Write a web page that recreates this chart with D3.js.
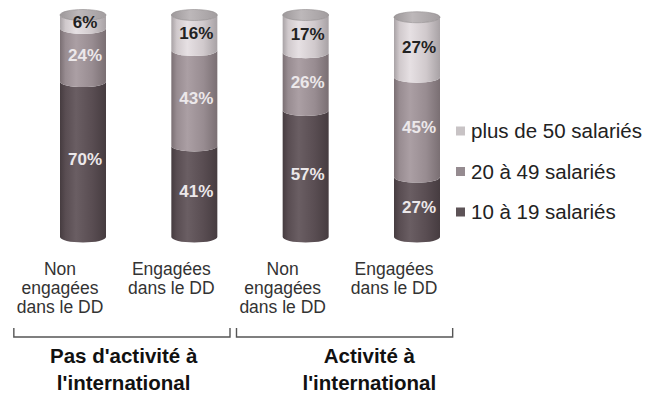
<!DOCTYPE html>
<html>
<head>
<meta charset="utf-8">
<script src="https://cdn.jsdelivr.net/npm/d3@7/dist/d3.min.js"></script>
<style>
  html, body { margin: 0; padding: 0; background: #fff; }
  svg { display: block; }
  text { font-family: "Liberation Sans", Arial, sans-serif; }
</style>
</head>
<body>
<svg id="chart" width="658" height="394"></svg>
<script>
// Share of firms by size, per group (percent)
const categories = ["nonPas", "engPas", "nonAct", "engAct"];
const categoryLabels = [
  ["Non", "engagées", "dans le DD"],
  ["Engagées", "dans le DD"],
  ["Non", "engagées", "dans le DD"],
  ["Engagées", "dans le DD"]
];
const groupLabels = [
  ["Pas d'activité à", "l'international"],
  ["Activité à", "l'international"]
];
const groupMembers = [["nonPas", "engPas"], ["nonAct", "engAct"]];
const seriesNames = ["10 à 19 salariés", "20 à 49 salariés", "plus de 50 salariés"];
const small  = [70, 41, 57, 27];   // 10 à 19 salariés
const medium = [24, 43, 26, 45];   // 20 à 49 salariés
const large  = [6, 16, 17, 27];    // plus de 50 salariés

const svg = d3.select("#chart");
const defs = svg.append("defs");

const rows = categories.map((c, i) => ({
  cat: c, s0: small[i], s1: medium[i], s2: large[i]
}));
const keys = ["s0", "s1", "s2"];
const stacked = d3.stack().keys(keys)(rows);

const x = d3.scalePoint().domain(categories).range([83, 417]);
const y = d3.scaleLinear().domain([0, 100]).range([237, 15]);
const barW = 46, rx = barW / 2, ry = 5.5;

// cylinder shading per series: [edge, highlight, body]
const shades = [
  ["#463c40", "#6a5e63", "#594d52"],
  ["#7a6f73", "#ab9fa4", "#988c91"],
  ["#a8a2a5", "#e6e0e3", "#d0c9cc"]
];
const legendFill = ["#5d5357", "#958b90", "#c8c3c5"];
const labelFill = ["#ece8ea", "#ece8ea", "#222"];

shades.forEach((s, i) => {
  const g = defs.append("linearGradient").attr("id", "cyl" + i)
    .attr("x1", "0").attr("x2", "1").attr("y1", "0").attr("y2", "0");
  g.append("stop").attr("offset", "0").attr("stop-color", s[0]);
  g.append("stop").attr("offset", "0.12").attr("stop-color", s[2]);
  g.append("stop").attr("offset", "0.35").attr("stop-color", s[1]);
  g.append("stop").attr("offset", "0.7").attr("stop-color", s[2]);
  g.append("stop").attr("offset", "1").attr("stop-color", s[0]);
});
const capGrad = defs.append("linearGradient").attr("id", "cap")
  .attr("x1", "0").attr("x2", "1").attr("y1", "0").attr("y2", "0");
capGrad.append("stop").attr("offset", "0").attr("stop-color", "#9d989a");
capGrad.append("stop").attr("offset", "0.4").attr("stop-color", "#bdb8ba");
capGrad.append("stop").attr("offset", "1").attr("stop-color", "#a29d9f");

// band of a cylinder between two heights, bounded by front arcs
function segPath(cx, yTop, yBot) {
  const x0 = cx - rx, x1 = cx + rx;
  return `M${x0},${yTop} A${rx},${ry} 0 0 0 ${x1},${yTop} L${x1},${yBot} A${rx},${ry} 0 0 1 ${x0},${yBot} Z`;
}

const bars = svg.append("g");
stacked.forEach((layer, si) => {
  bars.selectAll(null).data(layer).enter().append("path")
    .attr("d", d => segPath(x(d.data.cat), y(d[1]), y(d[0])))
    .attr("fill", `url(#cyl${si})`);
});

// top caps
const tops = stacked[stacked.length - 1];
bars.selectAll(null).data(tops).enter().append("ellipse")
  .attr("cx", d => x(d.data.cat)).attr("cy", d => y(d[1]))
  .attr("rx", rx).attr("ry", ry)
  .attr("fill", "url(#cap)").attr("stroke", "#8e898b").attr("stroke-width", 0.6);

// value labels
stacked.forEach((layer, si) => {
  bars.selectAll(null).data(layer).enter().append("text")
    .attr("x", d => x(d.data.cat) + 2)
    .attr("y", d => (y(d[1]) + y(d[0])) / 2)
    .attr("dy", "0.35em")
    .attr("text-anchor", "middle")
    .attr("font-size", 17).attr("font-weight", "bold")
    .attr("fill", labelFill[si])
    .text(d => (d[1] - d[0]) + "%");
});

// category labels
const labelShift = -23;
const catG = svg.append("g");
categories.forEach((c, i) => {
  const t = catG.append("text")
    .attr("x", x(c) + labelShift).attr("y", 275)
    .attr("text-anchor", "middle").attr("font-size", 17.5).attr("fill", "#333");
  categoryLabels[i].forEach((line, k) => {
    t.append("tspan").attr("x", x(c) + labelShift).attr("y", 275 + k * 19).text(line);
  });
});

// group brackets and their titles
const step = x.step();
const brG = svg.append("g").attr("fill", "none").attr("stroke", "#555").attr("stroke-width", 1.4);
groupMembers.forEach((m, gi) => {
  const left = x(m[0]) - step / 2 - 13.5;
  const right = x(m[1]) + step / 2 - 20;
  brG.append("path").attr("d", `M${left},328 L${left},337 L${right},337 L${right},328`);
  const t = svg.append("text").attr("text-anchor", "middle")
    .attr("font-size", 20.5).attr("font-weight", "bold").attr("fill", "#111");
  const cx = (x(m[0]) + x(m[1])) / 2 + (gi === 0 ? -15 : 8);
  groupLabels[gi].forEach((line, k) => {
    t.append("tspan").attr("x", cx).attr("y", 363 + k * 27).text(line);
  });
});

// legend, top entry first
const legend = svg.append("g").attr("transform", "translate(456,0)");
const legendOrder = [2, 1, 0];
legendOrder.forEach((si, k) => {
  const cy = 131 + k * 40.5;
  legend.append("rect").attr("x", 0).attr("y", cy - 4.5).attr("width", 9).attr("height", 9)
    .attr("fill", legendFill[si]);
  legend.append("text").attr("x", 15).attr("y", cy).attr("dy", "0.35em")
    .attr("font-size", 20.5).attr("fill", "#222").text(seriesNames[si]);
});
</script>
</body>
</html>
